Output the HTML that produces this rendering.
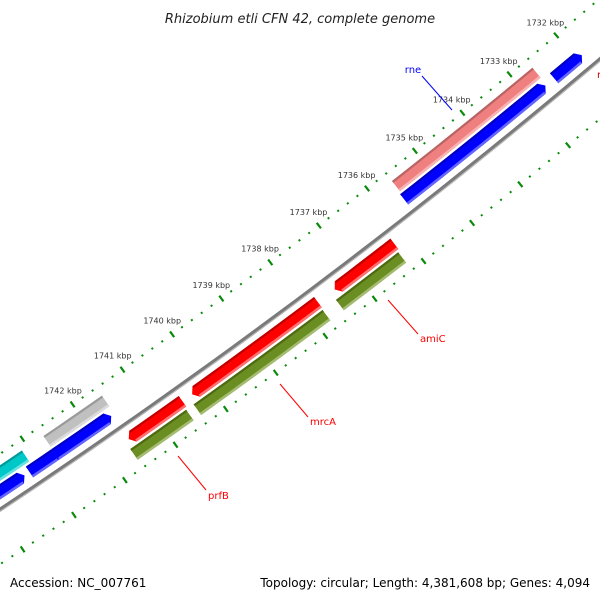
<!DOCTYPE html>
<html><head><meta charset="utf-8">
<style>
html,body{margin:0;padding:0;background:#fff;}
svg{display:block;font-family:"DejaVu Sans","Liberation Sans",sans-serif;}
</style></head>
<body>
<svg id="map" width="600" height="600" viewBox="0 0 600 600" xmlns="http://www.w3.org/2000/svg">
<rect width="600" height="600" fill="#fff"/>
<g id="ticks"></g>
<g id="backbone"></g>
<g id="features"></g>
<g id="labels">
  <line x1="422" y1="76" x2="452" y2="110" stroke="#0000ff" stroke-width="1"/>
  <text x="413" y="73" font-size="10" fill="#0000ff" text-anchor="middle">rne</text>
  <line x1="388" y1="300" x2="418" y2="334" stroke="#ff0000" stroke-width="1"/>
  <text x="420" y="342" font-size="10" fill="#ff0000">amiC</text>
  <line x1="280" y1="384" x2="308" y2="417" stroke="#ff0000" stroke-width="1"/>
  <text x="310" y="425" font-size="10" fill="#ff0000">mrcA</text>
  <line x1="178" y1="456" x2="206" y2="490" stroke="#ff0000" stroke-width="1"/>
  <text x="208" y="499" font-size="10" fill="#ff0000">prfB</text>
  <text x="597" y="78" font-size="10" fill="#cc0000">r</text>
</g>
<text x="300" y="23" font-size="13" font-style="italic" fill="#222" text-anchor="middle">Rhizobium etli CFN 42, complete genome</text>
<text x="10" y="587" font-size="12" fill="#000">Accession: NC_007761</text>
<text x="590" y="587" font-size="12" fill="#000" text-anchor="end">Topology: circular; Length: 4,381,608 bp; Genes: 4,094</text>
</svg>
<script>
// ---- data (kbp) ----
const featStart = [1735.602,1735.631,1732.479,1742.704,1743.208,1744.726,1742.688,1744.726,1737.425,1740.306,1741.569,1737.510,1740.381,1741.641];
const featEnd   = [1732.642,1732.665,1731.889,1741.588,1742.629,1743.306,1741.523,1743.115,1736.202,1737.768,1740.499,1736.238,1737.784,1740.531];
const featTrack = [2,1,1,1,1,1,2,2,-1,-1,-1,-2,-2,-2];
const featColor = ["pink","blue","blue","blue","blue","blue","gray","cyan","red","red","red","green","green","green"];
const featArrow = ["none","lo","lo","lo","lo","lo","none","none","hi","hi","hi","none","none","none"];
const featNames = ["rne-gene","rne-cds","gene-1732","gene-1742a","gene-1743a","gene-1744a","gene-1742-gray","gene-1744-cyan","amiC-cds","mrcA-cds","prfB-cds","amiC-gene","mrcA-gene","prfB-gene"];
const tickLabels = [1732,1733,1734,1735,1736,1737,1738,1739,1740,1741,1742];
const tickMin = 1730.8, tickMax = 1745.0, tickStep = 0.2;

// ---- geometry ----
const R = 6477, K0 = 1737.874, PX = 61.3;
const M = [304, 294.5];
const C = [M[0] - R*0.6, M[1] - R*0.8];
const PHI0 = Math.atan2(0.8, 0.6);
function tOf(kbp){ return (K0 - kbp) * PX; }
function pt(t, r){ const ph = PHI0 - t/R, rho = R - r; return [C[0]+rho*Math.cos(ph), C[1]+rho*Math.sin(ph)]; }
const trackR = {"2":30, "1":14.5, "-1":-14.5, "-2":-30};
const HW = 6.5;
const colors = {
 pink:["#f08080","#b86464","#f8b4b4"], blue:["#0000ff","#0000c0","#6464ff"],
 gray:["#c0c0c0","#9a9a9a","#dcdcdc"], cyan:["#00c8c8","#009a9a","#66e0e0"],
 red:["#ff0000","#c00000","#ff7070"], green:["#6b8e23","#4d6a12","#a4bb72"]
};
const NS = "http://www.w3.org/2000/svg";
function el(tag, attrs, parent){ const e = document.createElementNS(NS, tag); for (const k in attrs) e.setAttribute(k, attrs[k]); parent.appendChild(e); return e; }
function P(a){ return a.map(p=>p[0].toFixed(2)+","+p[1].toFixed(2)).join(" "); }
function arcPts(t1, t2, r){ const out=[]; const n=Math.max(2,Math.ceil(Math.abs(t2-t1)/20)); for(let i=0;i<=n;i++) out.push(pt(t1+(t2-t1)*i/n, r)); return out; }

// ticks
const gT = document.getElementById('ticks');
for (let k = tickMin; k <= tickMax + 1e-6; k += tickStep) {
  const kr = Math.round(k*10)/10;
  const major = Math.abs(kr - Math.round(kr)) < 1e-6;
  const t = tOf(kr);
  [46, -46].forEach(function(rr){
    const len = major ? 3.5 : 1;
    const a = pt(t, rr - len), b = pt(t, rr + len);
    const ln = el('line', {x1:a[0],y1:a[1],x2:b[0],y2:b[1],stroke:'#0a8a0a','stroke-width': major?2.2:2}, gT);
    
    
  });
}
tickLabels.forEach(function(k){
  const p = pt(tOf(k), 63);
  const tx = el('text', {x:p[0], y:p[1]+3, 'font-size':8, fill:'#333', 'text-anchor':'middle'}, gT);
  tx.textContent = k + " kbp";
  
  
});

// backbone
const gB = document.getElementById('backbone');
const bb = arcPts(-450, 450, 0);
const b1 = el('polyline', {points:P(bb), fill:'none', stroke:'#7a7a7a', 'stroke-width':3.2}, gB);


const b2 = el('polyline', {points:P(arcPts(-450,450,-2)), fill:'none', stroke:'#b8b8b8', 'stroke-width':1.2}, gB);



// features
const gF = document.getElementById('features');
for (let i = 0; i < featStart.length; i++) {
  let t1 = tOf(featStart[i]), t2 = tOf(featEnd[i]);
  if (t1 > t2) { const s=t1; t1=t2; t2=s; }
  const rc = trackR[String(featTrack[i])];
  const rOut = rc + HW, rIn = rc - HW;
  const col = colors[featColor[i]];
  const AH = 5;
  let a1 = t1, a2 = t2;
  if (featArrow[i] === 'lo') a2 = t2 - AH;
  if (featArrow[i] === 'hi') a1 = t1 + AH;
  let poly = [];
  poly = poly.concat(arcPts(a1, a2, rOut));
  if (featArrow[i] === 'lo') poly.push(pt(t2, rc));
  poly = poly.concat(arcPts(a2, a1, rIn));
  if (featArrow[i] === 'hi') poly.push(pt(t1, rc));
  const g = el('g', {}, gF);
  
  
  el('polygon', {points:P(poly), fill:col[0]}, g);
  const top = arcPts(a1, a2, rOut).concat(arcPts(a2, a1, rOut - 2.2));
  el('polygon', {points:P(top), fill:col[1]}, g);
  const bot = arcPts(a1, a2, rIn + 2.5).concat(arcPts(a2, a1, rIn));
  el('polygon', {points:P(bot), fill:col[2]}, g);
}
</script>
</body></html>
